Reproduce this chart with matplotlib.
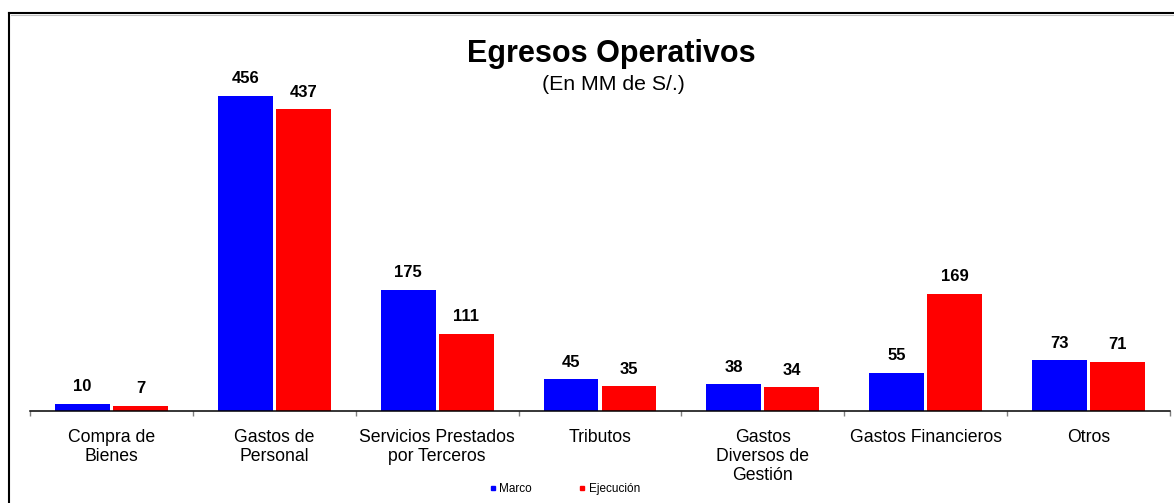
# Egresos Operativos - bar chart Marco vs Ejecucion

import matplotlib
matplotlib.use('Agg')
import matplotlib.pyplot as plt
from matplotlib.lines import Line2D
import numpy as np

categorias = ['Compra de\nBienes', 'Gastos de\nPersonal', 'Servicios Prestados\npor Terceros',
              'Tributos', 'Gastos\nDiversos de\nGestión', 'Gastos Financieros', 'Otros']
marco = [10, 456, 175, 45, 38, 55, 73]
ejecucion = [7, 437, 111, 35, 34, 169, 71]

W, H = 1174, 503

plt.rcParams['font.family'] = ['Liberation Sans', 'DejaVu Sans']


def main():
    fig = plt.figure(figsize=(W / 100, H / 100), dpi=100)
    ax = fig.add_axes([30 / W, 1 - 410.5 / H, 1140 / W, 370.5 / H])

    x = np.arange(len(categorias))
    ancho = 0.337
    desp = 0.178
    b1 = ax.bar(x - desp, marco, ancho, color='#0000FF', linewidth=0)
    b2 = ax.bar(x + desp, ejecucion, ancho, color='#FF0000', linewidth=0)

    for barras, vals in [(b1, marco), (b2, ejecucion)]:
        for b, v in zip(barras, vals):
            ax.annotate(str(v), (b.get_x() + b.get_width() / 2, b.get_height()),
                        xytext=(0, 9), textcoords='offset points',
                        ha='center', va='baseline', fontsize=12, fontweight='bold')

    ax.set_xlim(-0.5, len(categorias) - 0.5)
    ax.set_ylim(0, 370.5 / 0.6897)

    # ticks at category boundaries, labels at centres
    ax.set_xticks(np.arange(-0.5, len(categorias), 1.0))
    ax.set_xticklabels([])
    ax.tick_params(axis='x', which='major', direction='out', length=3.6,
                   width=1, color='#808080')
    ax.set_xticks(x, minor=True)
    ax.set_xticklabels(categorias, minor=True, fontsize=12.7, linespacing=1.13)
    ax.tick_params(axis='x', which='minor', length=0, pad=13.5)

    ax.set_yticks([])
    for s in ['top', 'right', 'left']:
        ax.spines[s].set_visible(False)
    ax.spines['bottom'].set_linewidth(1.1)

    fig.text(611.5 / W, 1 - 61.7 / H, 'Egresos Operativos', ha='center',
             va='baseline', fontsize=22, fontweight='bold')
    fig.text(613 / W, 1 - 90 / H, '(En MM de S/.)', ha='center',
             va='baseline', fontsize=15.3)

    handles = [Line2D([], [], marker='s', linestyle='none', color='#0000FF', markersize=3.5),
               Line2D([], [], marker='s', linestyle='none', color='#FF0000', markersize=3.5)]
    fig.legend(handles, ['Marco', 'Ejecución'], loc='center', ncol=2,
               bbox_to_anchor=(565 / W, 1 - 489 / H), frameon=False,
               fontsize=8.5, handlelength=0.5, handletextpad=0.3,
               columnspacing=4.0)

    # chart border (left and top visible)
    fig.add_artist(Line2D([9 / W, 9 / W], [0, 1 - 13 / H], color='black', linewidth=1.5))
    fig.add_artist(Line2D([9 / W, 1], [1 - 13 / H, 1 - 13 / H], color='black', linewidth=1.5))
    fig.add_artist(Line2D([11 / W, 1], [1 - 15 / H, 1 - 15 / H], color='#c0c0c0', linewidth=0.8))

    fig.savefig('out.png', dpi=100)


main()
